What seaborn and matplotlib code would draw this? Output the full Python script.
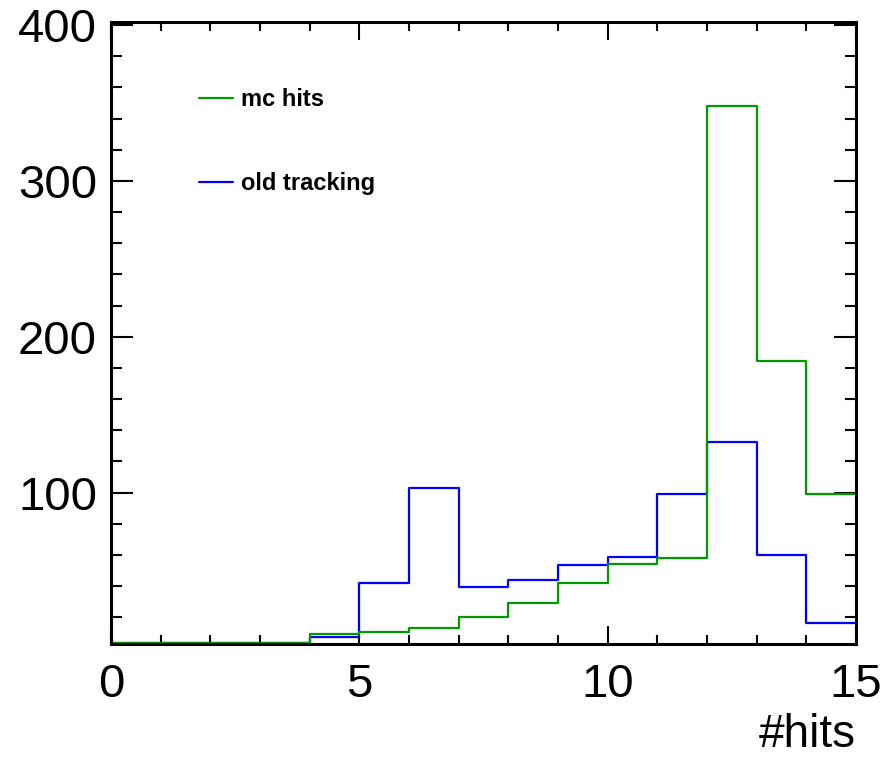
import numpy as np
import pandas as pd
import matplotlib
matplotlib.use("Agg")
import matplotlib.pyplot as plt
import seaborn as sns
from matplotlib.ticker import MultipleLocator
from matplotlib.lines import Line2D

# ---- data ----
bin_edges = list(range(0, 16))
bin_centers = [e + 0.5 for e in range(0, 15)]
mc_hits = [3.5, 3.5, 3.5, 3.5, 9.3, 10.3, 13.4, 20.3, 29.3, 42.1, 54.1, 58.2, 347.8, 184.2, 99.4]
old_tracking = [3.5, 3.5, 3.5, 3.5, 7.1, 42.1, 103.0, 39.3, 44.2, 53.9, 59.0, 99.1, 132.3, 59.9, 16.1]
series_names = ["mc hits", "old tracking"]
series_colors = {"mc hits": "#009900", "old tracking": "#0000ff"}

df = pd.DataFrame({
    "hits": bin_centers * 2,
    "count": mc_hits + old_tracking,
    "series": [series_names[0]] * len(mc_hits) + [series_names[1]] * len(old_tracking),
})

sns.set_theme(style="ticks")
plt.rcParams["font.family"] = ["Liberation Sans", "DejaVu Sans"]
plt.rcParams["text.color"] = "black"
plt.rcParams["axes.labelcolor"] = "black"

fig = plt.figure(figsize=(8.84, 7.61), dpi=100)
ax = fig.add_axes([111 / 884, 1 - 644 / 761, (856 - 111) / 884, (644 - 22) / 761])

sns.histplot(data=df, x="hits", weights="count", hue="series", bins=bin_edges,
             element="step", fill=False, palette=series_colors, linewidth=1.6,
             hue_order=series_names, legend=False, ax=ax)

ax.set_xlim(0, 15)
ax.set_ylim(2.9, 402)
ax.set_yticks([100, 200, 300, 400])
ax.xaxis.set_major_locator(MultipleLocator(5))
ax.xaxis.set_minor_locator(MultipleLocator(1))
ax.yaxis.set_minor_locator(MultipleLocator(20))

ax.tick_params(axis="both", which="both", direction="in", top=True, right=True,
               width=1.5, colors="black")
ax.tick_params(axis="x", which="major", length=13, pad=14, labelsize=34)
ax.tick_params(axis="x", which="minor", length=6.5)
ax.tick_params(axis="y", which="major", length=16, pad=10, labelsize=34)
ax.tick_params(axis="y", which="minor", length=8)
for s in ax.spines.values():
    s.set_linewidth(2.2)
    s.set_color("black")

ax.set_ylabel("")
ax.set_xlabel("#hits", fontsize=33, loc="right", labelpad=4, color="black")

handles = [Line2D([], [], color=series_colors[n], linewidth=1.6) for n in series_names]
leg = ax.legend(handles, series_names, loc="upper left", bbox_to_anchor=(0.105, 0.909),
                frameon=False, prop={"weight": "bold", "size": 17},
                handlelength=1.44, handletextpad=0.34, labelspacing=2.6, borderaxespad=0,
                labelcolor="black")

fig.savefig("out.png", dpi=100)
